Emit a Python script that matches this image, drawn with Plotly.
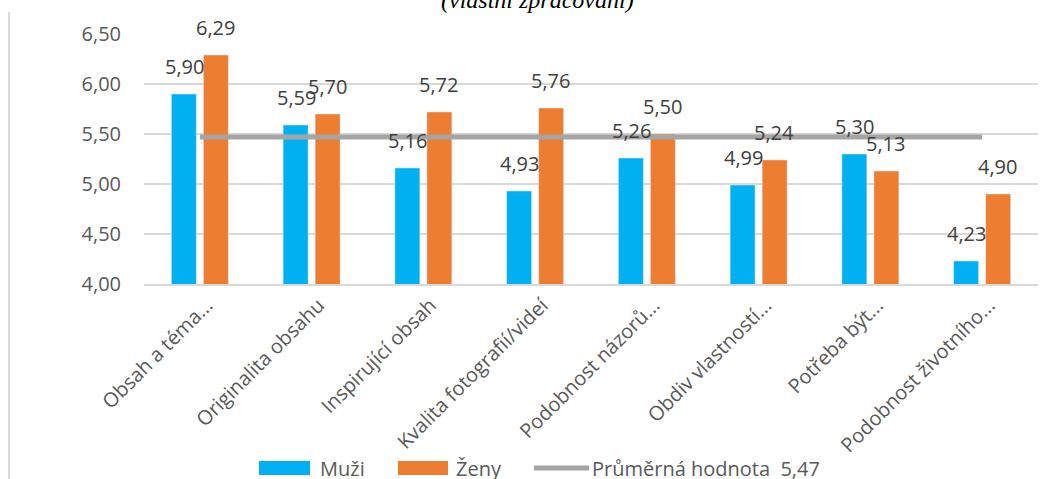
import plotly.graph_objects as go

categories = [
    "Obsah a téma...",
    "Originalita obsahu",
    "Inspirující obsah",
    "Kvalita fotografií/videí",
    "Podobnost názorů...",
    "Obdiv vlastností...",
    "Potřeba být...",
    "Podobnost životního...",
]
muzi = [5.90, 5.59, 5.16, 4.93, 5.26, 4.99, 5.30, 4.23]
zeny = [6.29, 5.70, 5.72, 5.76, 5.50, 5.24, 5.13, 4.90]
prumer = 5.47
y_ticks = [4.0, 4.5, 5.0, 5.5, 6.0, 6.5]

BLUE = "#00B0F0"
ORANGE = "#ED7D31"
GRAY = "#A5A5A5"
FONT = "Open Sans"
SIZE = 20

# plot area in pixels (used to place the legend row below the axis)
L, R, T, B = 144, 16, 34, 195
W, H = 1054, 479
PW, PH = W - L - R, H - T - B


def px_x(p):
    return (p - L) / PW


def px_y(p):
    return (H - B - p) / PH


def cz(v):
    return f"{v:.2f}".replace(".", ",")


avg_name = "Průměrná hodnota\u00a0 " + cz(prumer)

fig = go.Figure()
fig.add_trace(go.Bar(x=categories, y=muzi, name="Muži", marker_color=BLUE,
                     hoverinfo="skip", showlegend=False))
fig.add_trace(go.Bar(x=categories, y=zeny, name="Ženy", marker_color=ORANGE,
                     hoverinfo="skip", showlegend=False))
fig.add_trace(go.Scatter(x=categories, y=[prumer] * len(categories), mode="lines",
                         name=avg_name, line=dict(color=GRAY, width=5),
                         hoverinfo="skip", showlegend=False))

# value labels above each bar
annotations = []
for series, shift in ((muzi, -15.5), (zeny, 15.5)):
    for cat, v in zip(categories, series):
        annotations.append(dict(x=cat, y=v, text=cz(v), showarrow=False,
                                xshift=shift, yshift=12, yanchor="bottom",
                                font=dict(family=FONT, size=SIZE, color="#404040")))

annotations.append(dict(xref="paper", yref="paper", x=0.44, y=1.136,
                        text="<i>(vlastní zpracování)</i>", showarrow=False,
                        xanchor="center", yanchor="middle",
                        font=dict(family="Liberation Serif", size=24, color="#000000")))

# legend row: swatch + label for each series
legend_y = 468
shapes = [dict(type="line", xref="paper", yref="paper", x0=px_x(9), x1=px_x(9),
               y0=px_y(12), y1=px_y(H + 5), line=dict(color="#D9D9D9", width=2))]
for color, x0, x1, text_x, label in ((BLUE, 259, 310, 318, "Muži"),
                                     (ORANGE, 398, 448, 454, "Ženy")):
    shapes.append(dict(type="rect", xref="paper", yref="paper",
                       x0=px_x(x0), x1=px_x(x1), y0=px_y(legend_y - 7),
                       y1=px_y(legend_y + 7), fillcolor=color, line_width=0))
    annotations.append(dict(xref="paper", yref="paper", x=px_x(text_x),
                            y=px_y(legend_y), text=label, showarrow=False,
                            xanchor="left", yanchor="middle",
                            font=dict(family=FONT, size=SIZE, color="#595959")))
shapes.append(dict(type="line", xref="paper", yref="paper", x0=px_x(534), x1=px_x(589),
                   y0=px_y(legend_y), y1=px_y(legend_y),
                   line=dict(color=GRAY, width=5)))
annotations.append(dict(xref="paper", yref="paper", x=px_x(590), y=px_y(legend_y),
                        text=avg_name, showarrow=False, xanchor="left",
                        yanchor="middle",
                        font=dict(family=FONT, size=SIZE, color="#595959")))

fig.update_layout(
    width=W, height=H,
    margin=dict(l=L, r=R, t=T, b=B),
    paper_bgcolor="white", plot_bgcolor="white",
    barmode="group", bargap=0.427, bargroupgap=0.22,
    font=dict(family=FONT, size=SIZE, color="#595959"),
    showlegend=False,
    annotations=annotations,
    shapes=shapes,
)
fig.update_xaxes(tickangle=-45, showgrid=False, showline=True,
                 linecolor="#D9D9D9", linewidth=1.5, ticks="", automargin=False,
                 ticklabelshift=7,
                 tickfont=dict(family=FONT, size=SIZE, color="#595959"))
fig.update_yaxes(range=[4.0, 6.5], tickvals=y_ticks,
                 ticktext=[cz(t) for t in y_ticks], showgrid=True,
                 gridcolor="#D9D9D9", gridwidth=1.5, zeroline=False,
                 ticks="", ticklabelstandoff=22, automargin=False,
                 tickfont=dict(family=FONT, size=SIZE, color="#595959"))

fig.write_html("out.html")
